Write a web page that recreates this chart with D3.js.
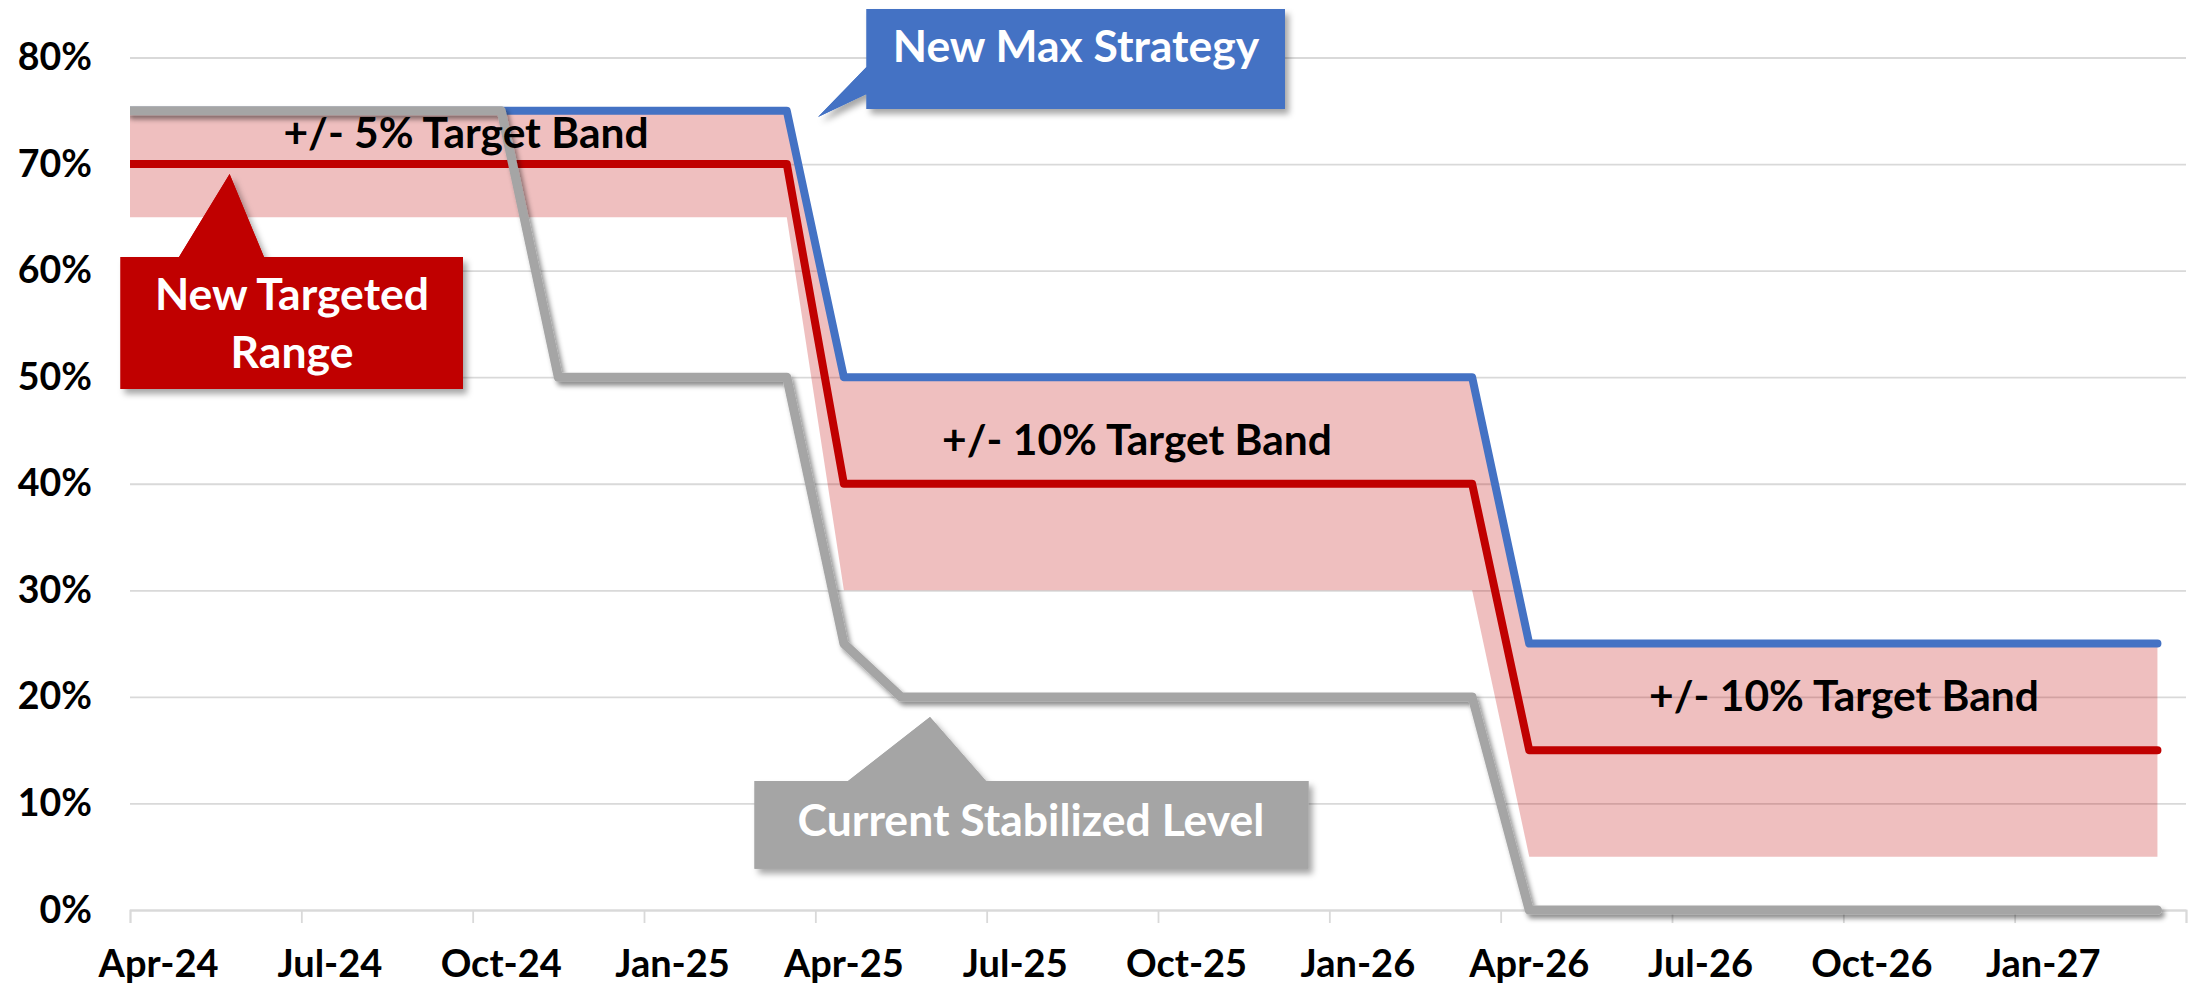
<!DOCTYPE html>
<html>
<head>
<meta charset="utf-8">
<script src="https://cdn.jsdelivr.net/npm/d3@7"></script>
<style>
  html, body { margin: 0; padding: 0; background: #fff; }
  svg { display: block; font-family: Lato, "Open Sans", sans-serif; font-weight: 700; }
</style>
</head>
<body>
<div id="chart"></div>
<script>
// monthly categories
const months = [
  "2024-04","2024-05","2024-06","2024-07","2024-08","2024-09","2024-10","2024-11","2024-12",
  "2025-01","2025-02","2025-03","2025-04","2025-05","2025-06","2025-07","2025-08","2025-09",
  "2025-10","2025-11","2025-12","2026-01","2026-02","2026-03","2026-04","2026-05","2026-06",
  "2026-07","2026-08","2026-09","2026-10","2026-11","2026-12","2027-01","2027-02","2027-03"
];
const tickLabels = ["Apr-24","Jul-24","Oct-24","Jan-25","Apr-25","Jul-25","Oct-25","Jan-26","Apr-26","Jul-26","Oct-26","Jan-27"];
const yTicks = [0, 0.1, 0.2, 0.3, 0.4, 0.5, 0.6, 0.7, 0.8];

// New Max Strategy (blue)
const maxStrategy = [
  0.75,0.75,0.75,0.75,0.75,0.75,0.75,0.75,0.75,0.75,0.75,0.75,
  0.50,0.50,0.50,0.50,0.50,0.50,0.50,0.50,0.50,0.50,0.50,0.50,
  0.25,0.25,0.25,0.25,0.25,0.25,0.25,0.25,0.25,0.25,0.25,0.25
];
// New Targeted Range (red)
const targeted = [
  0.70,0.70,0.70,0.70,0.70,0.70,0.70,0.70,0.70,0.70,0.70,0.70,
  0.40,0.40,0.40,0.40,0.40,0.40,0.40,0.40,0.40,0.40,0.40,0.40,
  0.15,0.15,0.15,0.15,0.15,0.15,0.15,0.15,0.15,0.15,0.15,0.15
];
// target band edges
const bandLow = [
  0.65,0.65,0.65,0.65,0.65,0.65,0.65,0.65,0.65,0.65,0.65,0.65,
  0.30,0.30,0.30,0.30,0.30,0.30,0.30,0.30,0.30,0.30,0.30,0.30,
  0.05,0.05,0.05,0.05,0.05,0.05,0.05,0.05,0.05,0.05,0.05,0.05
];
const bandHigh = [
  0.75,0.75,0.75,0.75,0.75,0.75,0.75,0.75,0.75,0.75,0.75,0.75,
  0.50,0.50,0.50,0.50,0.50,0.50,0.50,0.50,0.50,0.50,0.50,0.50,
  0.25,0.25,0.25,0.25,0.25,0.25,0.25,0.25,0.25,0.25,0.25,0.25
];
// Current Stabilized Level (gray)
const current = [
  0.75,0.75,0.75,0.75,0.75,0.75,0.75,
  0.50,0.50,0.50,0.50,0.50,
  0.25,
  0.20,0.20,0.20,0.20,0.20,0.20,0.20,0.20,0.20,0.20,0.20,
  0,0,0,0,0,0,0,0,0,0,0,0
];

const W = 2195, H = 986;
const plotL = 130, plotR = 2186, plotT = 57.5, plotB = 910;

const svg = d3.select("#chart").append("svg")
    .attr("width", W)
    .attr("height", H);

const defs = svg.append("defs");
defs.append("filter").attr("id", "lineShadow")
    .attr("x", "-5%").attr("y", "-20%").attr("width", "110%").attr("height", "140%")
    .append("feDropShadow")
    .attr("dx", 3).attr("dy", 4).attr("stdDeviation", 2.5)
    .attr("flood-color", "#000").attr("flood-opacity", 0.45);
defs.append("filter").attr("id", "boxShadow")
    .attr("x", "-10%").attr("y", "-10%").attr("width", "130%").attr("height", "140%")
    .append("feDropShadow")
    .attr("dx", 4).attr("dy", 5).attr("stdDeviation", 3)
    .attr("flood-color", "#000").attr("flood-opacity", 0.35);
defs.append("clipPath").attr("id", "plotClip")
    .append("rect").attr("x", plotL).attr("y", 0).attr("width", plotR - plotL).attr("height", H);

const x = d3.scaleBand().domain(months).range([plotL, plotR]).padding(0);
const idx = d3.scaleLinear().domain([0, months.length]).range([plotL, plotR]);
const y = d3.scaleLinear().domain([0, 0.8]).range([plotB, plotT]);
const cx = i => x(months[i]) + x.bandwidth() / 2;

// gridlines
svg.append("g")
    .attr("transform", `translate(${plotL},0)`)
    .call(d3.axisLeft(y).tickValues(yTicks).tickSize(-(plotR - plotL)).tickFormat(""))
    .call(g => g.select(".domain").remove())
    .selectAll("line").attr("stroke", "#d9d9d9").attr("stroke-width", 1.8);

// y labels
svg.append("g")
    .attr("transform", `translate(${plotL},0)`)
    .call(d3.axisLeft(y).tickValues(yTicks).tickSize(0).tickPadding(38).tickFormat(d3.format(".0%")))
    .call(g => g.select(".domain").remove())
    .selectAll("text")
    .attr("fill", "#000").attr("font-size", 37.5).attr("font-family", "Lato").attr("font-weight", 700);

// x tick marks every quarter
svg.append("g")
    .attr("transform", `translate(0,${plotB})`)
    .call(d3.axisBottom(idx).tickValues(d3.range(0, months.length + 1, 3)).tickSize(13).tickFormat(""))
    .call(g => g.select(".domain").attr("stroke", "#d9d9d9").attr("stroke-width", 1.8))
    .selectAll("line").attr("stroke", "#d9d9d9").attr("stroke-width", 1.8);

// x labels
const quarterMonths = months.filter((m, i) => i % 3 === 0);
svg.append("g")
    .attr("transform", `translate(0,${plotB})`)
    .call(d3.axisBottom(x).tickValues(quarterMonths).tickSize(0)
        .tickFormat((m, i) => tickLabels[i]))
    .call(g => g.select(".domain").remove())
    .selectAll("text")
    .attr("y", 67).attr("dy", 0)
    .attr("fill", "#000").attr("font-size", 38).attr("font-family", "Lato").attr("font-weight", 700);

// series are drawn from the left plot edge through month centres
function pts(vals) {
  return [[plotL, vals[0]]].concat(vals.map((v, i) => [cx(i), v]));
}
const plot = svg.append("g").attr("clip-path", "url(#plotClip)");

const area = d3.area()
    .x(d => d[0])
    .y0(d => y(d[1]))
    .y1(d => y(d[2]));
const bandPts = [[plotL, bandLow[0], bandHigh[0]]].concat(bandLow.map((v, i) => [cx(i), v, bandHigh[i]]));
plot.append("path")
    .attr("d", area(bandPts))
    .attr("fill", "#c00000").attr("fill-opacity", 0.25);

const line = d3.line().x(d => d[0]).y(d => y(d[1]));
const series = [
  {vals: maxStrategy, color: "#4472c4", w: 8, shadow: false},
  {vals: targeted, color: "#c00000", w: 8, shadow: false},
  {vals: current, color: "#a5a5a5", w: 9, shadow: true}
];
series.forEach(s => {
  plot.append("path")
      .attr("d", line(pts(s.vals)))
      .attr("fill", "none")
      .attr("stroke", s.color)
      .attr("stroke-width", s.w)
      .attr("stroke-linejoin", "round")
      .attr("stroke-linecap", "round")
      .attr("filter", s.shadow ? "url(#lineShadow)" : null);
});

// band labels
const bandLabels = [
  {text: "+/- 5% Target Band", x: 466, y: 148},
  {text: "+/- 10% Target Band", x: 1137, y: 455},
  {text: "+/- 10% Target Band", x: 1844, y: 711}
];
svg.append("g").selectAll("text")
    .data(bandLabels).enter().append("text")
    .attr("x", d => d.x).attr("y", d => d.y)
    .attr("text-anchor", "middle")
    .attr("font-size", 42.5).attr("fill", "#000")
    .text(d => d.text);

// callouts: box + pointer
const callouts = [
  {color: "#4472c4", box: [866.5, 9, 1285, 109],
   pointer: [[866.5, 67], [818, 117], [866.5, 94]],
   lines: ["New Max Strategy"], tx: 1076, ty: 62},
  {color: "#c00000", box: [120.5, 257, 463, 389],
   pointer: [[179, 257], [229.6, 174], [264, 257]],
   lines: ["New Targeted", "Range"], tx: 292, ty: 310},
  {color: "#a5a5a5", box: [754.5, 781, 1308.5, 868.7],
   pointer: [[848, 781], [930, 717], [986, 781]],
   lines: ["Current Stabilized Level"], tx: 1031, ty: 836}
];
callouts.forEach(c => {
  const [x0, y0, x1, y1] = c.box;
  const g = svg.append("g");
  const p = d3.path();
  p.rect(x0, y0, x1 - x0, y1 - y0);
  p.moveTo(c.pointer[0][0], c.pointer[0][1]);
  p.lineTo(c.pointer[1][0], c.pointer[1][1]);
  p.lineTo(c.pointer[2][0], c.pointer[2][1]);
  p.closePath();
  g.append("path").attr("d", p.toString()).attr("fill", c.color).attr("filter", "url(#boxShadow)");
  g.append("path").attr("d", p.toString()).attr("fill", c.color);
  c.lines.forEach((t, i) => {
    g.append("text")
        .attr("x", c.tx).attr("y", c.ty + i * 58)
        .attr("text-anchor", "middle")
        .attr("font-size", 44.5).attr("fill", "#fff")
        .text(t);
  });
});
</script>
</body>
</html>
